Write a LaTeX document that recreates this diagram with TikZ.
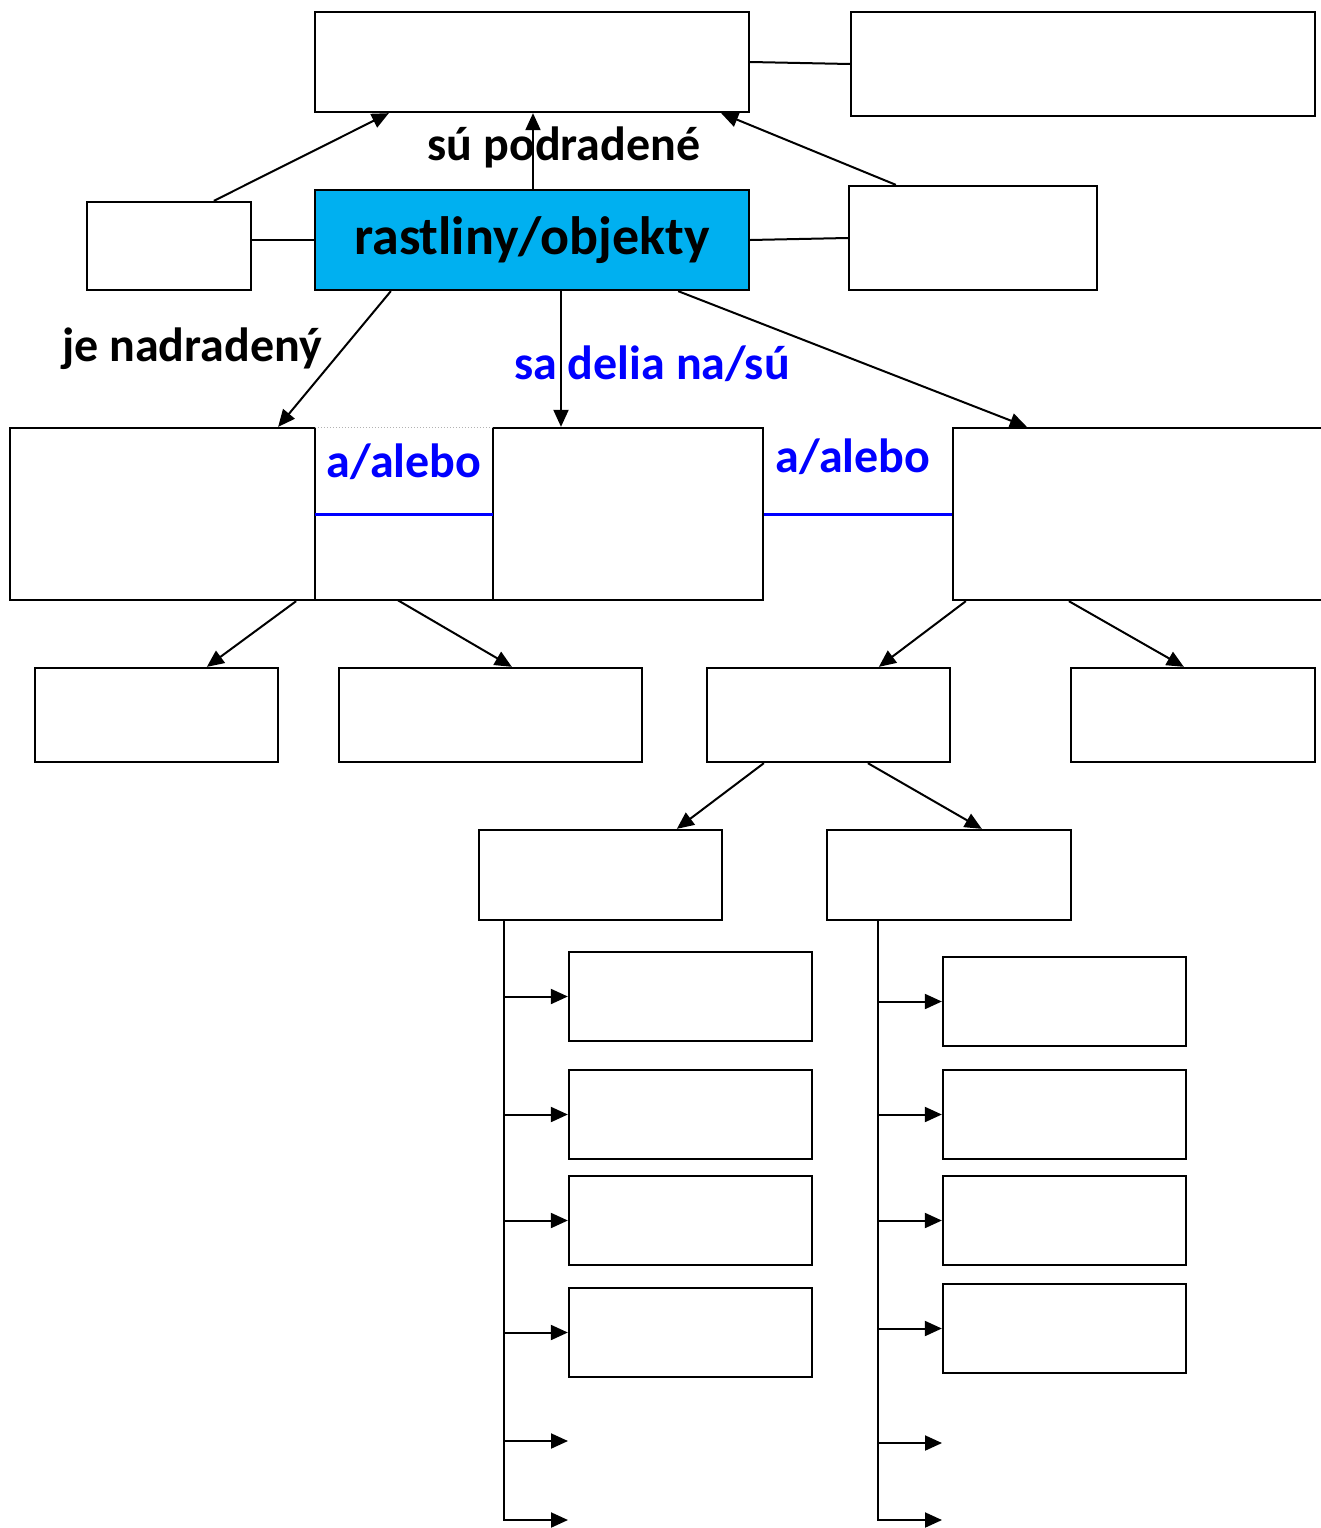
\documentclass[tikz,border=0pt]{standalone}
\usepackage{fontspec}
\setmainfont{Carlito}
\usetikzlibrary{arrows.meta}
\definecolor{mainfill}{HTML}{00B0F0}
\definecolor{relblue}{HTML}{0000FF}
\begin{document}
\begin{tikzpicture}[x=1pt,y=-1pt,
  box/.style={draw=black, line width=2.3pt, rectangle, inner sep=0pt, fill=white},
  conn/.style={line width=2pt, draw=black},
  arr/.style={conn, -{Triangle[length=17pt,width=15pt]}},
  rel/.style={font=\bfseries\fontsize{48}{52}\selectfont, inner sep=0pt},
  orline/.style={draw=relblue, line width=3pt}]
\useasboundingbox (0,0) rectangle (1320,1528);

% top row
\node[box, minimum width=434, minimum height=100] (T) at (532,62) {};
\node[box, minimum width=464, minimum height=104] (TR) at (1083,64) {};

% central concept and its neighbours
\node[box, fill=mainfill, minimum width=434, minimum height=100,
      font=\bfseries\fontsize{54}{58}\selectfont] (M) at (532,240) {rastliny/objekty};
\node[box, minimum width=164, minimum height=88] (L) at (169,246) {};
\node[box, minimum width=248, minimum height=104] (R) at (973,238) {};

\draw[conn] (T.east) -- (TR.west);
\draw[conn] (M.west) -- (M.west -| L.east);
\draw[conn] (M.east) -- (R.west);

\draw[arr] ([xshift=128]L.north west) -- ([xshift=75]T.south west);
\draw[arr] ([xshift=1]M.north) -- ([xshift=1]T.south);
\draw[arr] ([xshift=48]R.north west) -- ([xshift=-29]T.south east);
\node[rel] (lsub) at (564,147) {sú podradené};

% second level
\node[box, minimum width=305, minimum height=172] (A) at (162.5,514) {};
\node[inner sep=0pt, minimum width=178, minimum height=172] (cell) at (404,514) {};
\node[box, minimum width=270, minimum height=172] (B) at (628,514) {};
\node[box, minimum width=387, minimum height=172] (C) at (1146.5,514) {};
\draw[line width=2.3pt] (cell.south west) -- (cell.south east);
\draw[gray!60, line width=1pt, dotted] (cell.north west) -- (cell.north east);
\draw[orline] (cell.west) -- (cell.east);
\draw[orline] (B.east) -- (C.west);
\node[rel, text=relblue] (or1) at (404,462) {a/alebo};
\node[rel, text=relblue] (or2) at (853,457) {a/alebo};

\draw[arr] ([xshift=77]M.south west) -- ([xshift=-38]A.north east);
\draw[arr] ([xshift=29]M.south) -- ([xshift=-67]B.north);
\draw[arr] ([xshift=-72]M.south east) -- ([xshift=75]C.north west);
\node[rel] (lsup) at (192,349) {je nadradený};
\node[rel, text=relblue] (ldiv) at (652,364) {sa delia na/sú};

% third level
\node[box, minimum width=243, minimum height=94] (D1) at (156.5,715) {};
\node[box, minimum width=303, minimum height=94] (D2) at (490.5,715) {};
\node[box, minimum width=243, minimum height=94] (D3) at (828.5,715) {};
\node[box, minimum width=244, minimum height=94] (D4) at (1193,715) {};

\draw[arr] ([xshift=-20]A.south east) -- ([xshift=173]D1.north west);
\draw[arr] ([xshift=83]cell.south west) -- ([xshift=174]D2.north west);
\draw[arr] ([xshift=14]C.south west) -- ([xshift=173]D3.north west);
\draw[arr] ([xshift=117]C.south west) -- ([xshift=114]D4.north west);

% fourth level
\node[box, minimum width=243, minimum height=90] (E1) at (600.5,875) {};
\node[box, minimum width=244, minimum height=90] (E2) at (949,875) {};
\draw[arr] ([xshift=58]D3.south west) -- ([xshift=199]E1.north west);
\draw[arr] ([xshift=162]D3.south west) -- ([xshift=156]E2.north west);

% left list
\foreach \n/\y in {1/996.5, 2/1114.5, 3/1220.5, 4/1332.5}
  \node[box, minimum width=243, minimum height=89] (F\n) at (690.5,\y) {};
\coordinate (lt) at ([xshift=26]E1.south west);
\coordinate (l5) at (568,1441);
\coordinate (l6) at (568,1520);
\draw[arr] (lt) |- (l6);
\foreach \n in {1,...,4}
  \draw[arr] (lt |- F\n.west) -- (F\n.west);
\draw[arr] (lt |- l5) -- (l5);

% right list
\foreach \n/\y in {1/1001.5, 2/1114.5, 3/1220.5, 4/1328.5}
  \node[box, minimum width=243, minimum height=89] (G\n) at (1064.5,\y) {};
\coordinate (rt) at ([xshift=52]E2.south west);
\coordinate (r5) at (942,1443);
\coordinate (r6) at (942,1520);
\draw[arr] (rt) |- (r6);
\foreach \n in {1,...,4}
  \draw[arr] (rt |- G\n.west) -- (G\n.west);
\draw[arr] (rt |- r5) -- (r5);
\end{tikzpicture}
\end{document}
